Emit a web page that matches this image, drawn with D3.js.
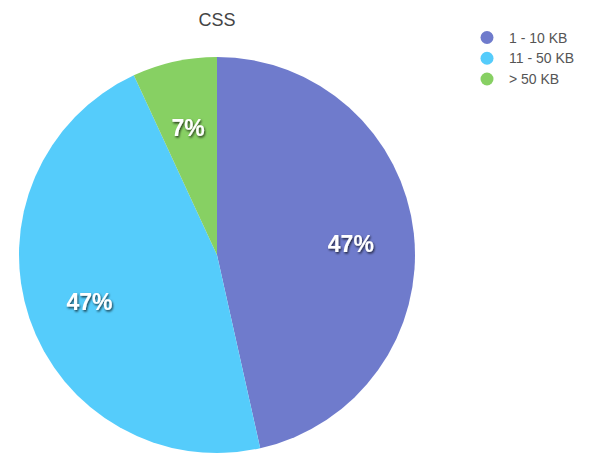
<!DOCTYPE html>
<html>
<head>
<meta charset="utf-8">
<script src="https://cdn.jsdelivr.net/npm/d3@7"></script>
<style>
  html, body { margin: 0; padding: 0; background: #fff; }
  svg { display: block; }
</style>
</head>
<body>
<svg id="chart" width="610" height="457"></svg>
<script>
const title = "CSS";
const categories = ["1 - 10 KB", "11 - 50 KB", "> 50 KB"];
const values = [46.5, 46.6, 6.9];
const labels = ["47%", "47%", "7%"];
const colors = ["#6f7bcc", "#55ccfb", "#87d063"];

const svg = d3.select("#chart");
const cx = 217, cy = 255, r = 198;

const defs = svg.append("defs");
const f = defs.append("filter").attr("id", "shadow").attr("x", "-20%").attr("y", "-20%").attr("width", "140%").attr("height", "140%");
f.append("feDropShadow").attr("dx", 1).attr("dy", 1.5).attr("stdDeviation", 1).attr("flood-color", "#000").attr("flood-opacity", 0.75);

svg.append("text")
  .attr("x", cx).attr("y", 26)
  .attr("text-anchor", "middle")
  .attr("font-family", "Liberation Sans, Arial, sans-serif")
  .attr("font-size", 18)
  .attr("fill", "#444")
  .text(title);

const pie = d3.pie().sort(null).value(d => d);
const arcs = pie(values);
const arc = d3.arc().innerRadius(0).outerRadius(r);
const labelArc = d3.arc().innerRadius(r * 0.68).outerRadius(r * 0.68);

const g = svg.append("g").attr("transform", `translate(${cx},${cy})`);
g.selectAll("path.slice").data(arcs).join("path")
  .attr("class", "slice")
  .attr("d", arc)
  .attr("fill", (d, i) => colors[i]);

g.selectAll("text.lbl").data(arcs).join("text")
  .attr("class", "lbl")
  .attr("transform", d => { const c = labelArc.centroid(d); return `translate(${c[0]},${c[1] + 4})`; })
  .attr("text-anchor", "middle")
  .attr("dominant-baseline", "central")
  .attr("font-family", "Liberation Sans, Arial, sans-serif")
  .attr("font-weight", "bold")
  .attr("font-size", 23)
  .attr("fill", "#fff")
  .attr("filter", "url(#shadow)")
  .text((d, i) => labels[i]);

const legend = svg.append("g");
const ly = d3.scalePoint().domain(categories).range([37.5, 79]);
const items = legend.selectAll("g").data(categories).join("g")
  .attr("transform", d => `translate(487,${ly(d)})`);
items.append("circle").attr("r", 6.5).attr("fill", (d, i) => colors[i]);
items.append("text")
  .attr("x", 22).attr("y", 0)
  .attr("dominant-baseline", "central")
  .attr("font-family", "Liberation Sans, Arial, sans-serif")
  .attr("font-size", 14)
  .attr("fill", "#555")
  .text(d => d);
</script>
</body>
</html>
